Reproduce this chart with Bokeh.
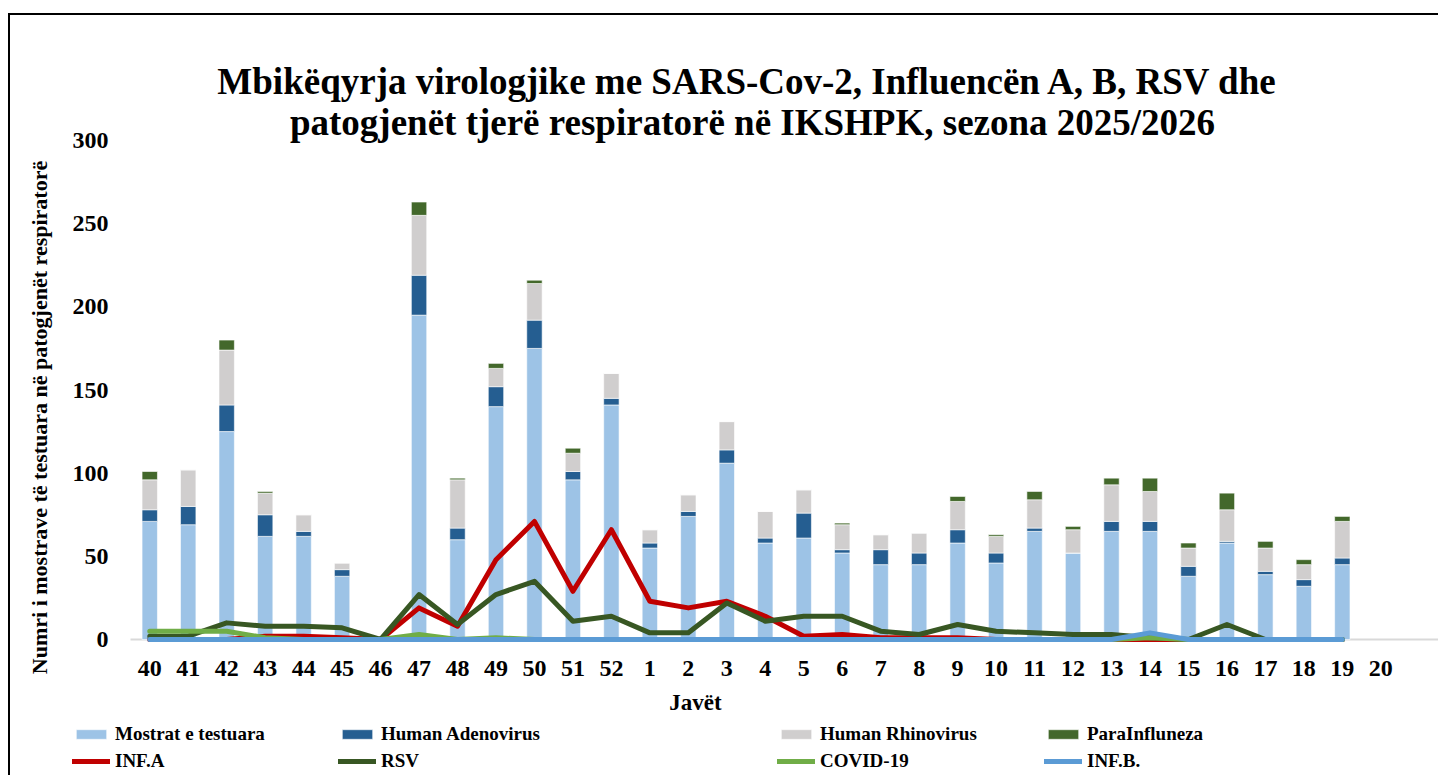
import math
from bokeh.plotting import figure
from bokeh.models import ColumnDataSource, Range1d, Legend, LegendItem, Label, FixedTicker
from bokeh.embed import file_html
from bokeh.resources import INLINE

weeks = ["40", "41", "42", "43", "44", "45", "46", "47", "48", "49", "50", "51", "52",
         "1", "2", "3", "4", "5", "6", "7", "8", "9", "10", "11", "12", "13", "14",
         "15", "16", "17", "18", "19"]
extra_weeks = ["20", ""]

mostrat = [71, 69, 125, 62, 62, 38, 0, 195, 60, 140, 175, 96, 141, 55, 74, 106, 58, 61,
           52, 45, 45, 58, 46, 65, 52, 65, 65, 38, 58, 39, 32, 45]
adeno = [7, 11, 16, 13, 3, 4, 0, 24, 7, 12, 17, 5, 4, 3, 3, 8, 3, 15,
         2, 9, 7, 8, 6, 2, 0, 6, 6, 6, 1, 2, 4, 4]
rhino = [18, 22, 33, 13, 10, 4, 0, 36, 29, 11, 22, 11, 15, 8, 10, 17, 16, 14,
         15, 9, 12, 17, 10, 17, 14, 22, 18, 11, 19, 14, 9, 22]
para = [5, 0, 6, 1, 0, 0, 0, 8, 1, 3, 2, 3, 0, 0, 0, 0, 0, 0,
        1, 0, 0, 3, 1, 5, 2, 4, 8, 3, 10, 4, 3, 3]

inf_a = [0, 0, 0, 2, 2, 1, 0, 19, 8, 48, 71, 29, 66, 23, 19, 23, 14, 2,
         3, 1, 1, 1, 0, 0, 0, 0, 0, 0, 0, 0, 0, 0]
rsv = [2, 2, 10, 8, 8, 7, 0, 27, 9, 27, 35, 11, 14, 4, 4, 22, 11, 14,
       14, 5, 3, 9, 5, 4, 3, 3, 1, 0, 9, 0, 0, 0]
covid = [5, 5, 5, 1, 0, 0, 0, 3, 0, 1, 0, 0, 0, 0, 0, 0, 0, 0,
         0, 0, 0, 0, 0, 0, 0, 0, 1, 0, 0, 0, 0, 0]
inf_b = [0, 0, 0, 0, 0, 0, 0, 0, 0, 0, 0, 0, 0, 0, 0, 0, 0, 0,
         0, 0, 0, 0, 0, 0, 0, 0, 4, 0, 0, 0, 0, 0]

y_ticks = [0, 50, 100, 150, 200, 250, 300]

title_line1 = "Mbikëqyrja virologjike me SARS-Cov-2,  Influencën A, B, RSV dhe"
title_line2 = "patogjenët tjerë respiratorë në IKSHPK, sezona 2025/2026"
y_label = "Numri i mostrave të testuara në patogjenët respiratorë"
x_label = "Javët"

FONT = "Liberation Serif"

# ---- layout (pixels) ----
W, H = 1430, 762              # canvas size; canvas placed at page (10, 15)
PX0, PY0 = 10, 15             # page position of canvas top-left
cat_w = 38.47                 # pixels per week slot
c0 = 149.25                   # page x of first week centre
y0_px, y300_px = 639, 140     # page y of value 0 and 300
k = (y0_px - y300_px) / 300.0

all_labels = weeks + extra_weeks
pos = list(range(len(weeks)))
all_pos = list(range(len(all_labels)))

x_start = (PX0 - c0) / cat_w
x_end = (PX0 + W - c0) / cat_w
y_start = -((PY0 + H) - y0_px) / k
y_end = (y0_px - PY0) / k


def sx(px):
    return px - PX0


def sy(py):
    return (PY0 + H) - py


src = ColumnDataSource(dict(x=pos, mostrat=mostrat, adeno=adeno, rhino=rhino, para=para,
                            inf_a=inf_a, rsv=rsv, covid=covid, inf_b=inf_b))

p = figure(x_range=Range1d(x_start, x_end), y_range=Range1d(y_start, y_end),
           width=W, height=H, output_backend="svg", toolbar_location=None, title=None,
           min_border_left=0, min_border_right=0, min_border_top=0, min_border_bottom=0,
           styles={"border-top": "2px solid black", "border-left": "2px solid black",
                   "margin-top": "13px", "margin-left": "8px"})

bars = p.vbar_stack(["mostrat", "adeno", "rhino", "para"], x="x", width=0.4, source=src,
                    color=["#9DC3E6", "#255E91", "#D0CECE", "#43682B"],
                    line_color="white", line_width=0.6)

lw = 5
l_a = p.line("x", "inf_a", source=src, line_width=lw, color="#C00000", line_join="round", line_cap="round")
l_rsv = p.line("x", "rsv", source=src, line_width=lw, color="#385723", line_join="round", line_cap="round")
l_cov = p.line("x", "covid", source=src, line_width=lw, color="#70AD47", line_join="round", line_cap="round")
l_b = p.line("x", "inf_b", source=src, line_width=lw, color="#5B9BD5", line_join="round", line_cap="round")

p.xgrid.grid_line_color = None
p.ygrid.grid_line_color = None
p.outline_line_color = None
p.background_fill_color = "white"
p.border_fill_color = "white"

# x axis sits at value 0 inside the frame, beneath the series
xa = p.xaxis[0]
xa.level = "underlay"
xa.fixed_location = 0
xa.bounds = (-0.5, len(all_labels) - 0.5)
xa.ticker = FixedTicker(ticks=all_pos)
xa.major_label_overrides = {i: lab for i, lab in zip(all_pos, all_labels)}
xa.axis_line_color = "#D9D9D9"
xa.axis_line_width = 2
xa.major_tick_line_color = None
xa.minor_tick_line_color = None
xa.major_label_standoff = 15
xa.major_label_text_font = FONT
xa.major_label_text_font_size = "24px"
xa.major_label_text_font_style = "bold"
xa.major_label_text_color = "black"

ya = p.yaxis[0]
ya.fixed_location = -0.5
ya.bounds = (0, 300)
ya.ticker = FixedTicker(ticks=y_ticks)
ya.axis_line_color = None
ya.major_tick_line_color = None
ya.minor_tick_line_color = None
ya.major_label_standoff = 16
ya.major_label_text_font = FONT
ya.major_label_text_font_size = "24px"
ya.major_label_text_font_style = "bold"
ya.major_label_text_color = "black"


def add_text(text, px, py, size, angle=0.0, baseline="alphabetic"):
    p.add_layout(Label(x=sx(px), y=sy(py), x_units="screen", y_units="screen", text=text,
                       angle=angle, text_align="center", text_baseline=baseline,
                       text_font=FONT, text_font_size=size, text_font_style="bold",
                       text_color="black"))


add_text(title_line1, 752, 81, "37px")
add_text(title_line2, 752, 122, "37px")
add_text(x_label, 695, 702, "23px")
add_text(y_label, 39, 417, "22px", angle=math.pi / 2, baseline="middle")


def make_legend(items, px):
    leg = Legend(items=items, location=(sx(px), 5), orientation="vertical",
                 glyph_width=38, glyph_height=12, label_standoff=5, spacing=5,
                 padding=0, margin=0, border_line_color=None, background_fill_alpha=0,
                 label_text_font=FONT, label_text_font_size="19px",
                 label_text_font_style="bold", label_text_color="black")
    p.add_layout(leg, "center")


make_legend([LegendItem(label="Mostrat e testuara", renderers=[bars[0]]),
             LegendItem(label="INF.A", renderers=[l_a])], 72)
make_legend([LegendItem(label="Human Adenovirus", renderers=[bars[1]]),
             LegendItem(label="RSV", renderers=[l_rsv])], 338)
make_legend([LegendItem(label="Human Rhinovirus", renderers=[bars[2]]),
             LegendItem(label="COVID-19", renderers=[l_cov])], 777)
make_legend([LegendItem(label="ParaInfluneza", renderers=[bars[3]]),
             LegendItem(label="INF.B.", renderers=[l_b])], 1044)

open("out.html", "w").write(file_html(p, INLINE))
